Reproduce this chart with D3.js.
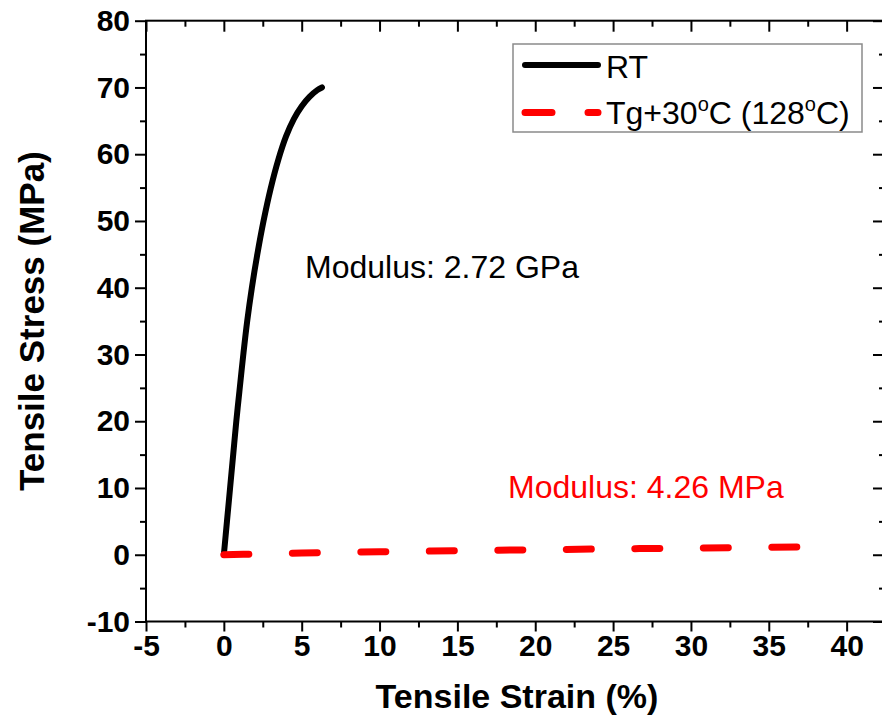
<!DOCTYPE html>
<html><head><meta charset="utf-8">
<script src="https://cdn.jsdelivr.net/npm/d3@7"></script>
<style>body{margin:0;background:#fff}svg{display:block}</style>
</head><body>
<svg id="c" width="882" height="719"></svg>
<script>
// Data
const rtStrain = [0, 0.2, 0.4, 0.6, 0.8, 1.0, 1.25, 1.5, 1.8, 2.15, 2.55, 3.0, 3.5, 4.0, 4.5, 5.0, 5.5, 6.0, 6.3];
const rtStress = [0, 5, 10, 15, 20, 24.5, 30, 35, 40, 45, 50, 54.8, 59.2, 62.7, 65.3, 67.2, 68.6, 69.6, 70];
const hotStrain = [0, 5, 10, 15, 20, 25, 30, 36.8];
const hotStress = [0, 0.25, 0.45, 0.6, 0.75, 0.88, 1.0, 1.15];
const xTicks = [-5, 0, 5, 10, 15, 20, 25, 30, 35, 40];
const yTicks = [-10, 0, 10, 20, 30, 40, 50, 60, 70, 80];
const seriesNames = ["RT", "Tg+30", "C (128", "C)"];
const annotations = ["Modulus: 2.72 GPa", "Modulus: 4.26 MPa"];

const svg = d3.select("#c");
const x = d3.scaleLinear().domain([-5, 42.4]).range([146, 884]);
const y = d3.scaleLinear().domain([-10, 80]).range([621.5, 20.7]);
const font = "'Liberation Sans', Arial, sans-serif";
const fmt = d => String(d);
const tickFont = 30;

const xMinor = d3.range(-5, 42.5, 2.5).filter(v => !xTicks.includes(v));
const yMinor = d3.range(-10, 80.1, 5).filter(v => !yTicks.includes(v));

function styleAxis(g){
  g.select(".domain").remove();
  g.selectAll("line").attr("stroke","#000").attr("stroke-width",2);
}
// bottom axis
const gb = svg.append("g").attr("transform",`translate(0,${y(-10)})`)
  .call(d3.axisBottom(x).tickValues(xTicks).tickSize(10).tickPadding(3).tickFormat(fmt));
styleAxis(gb);
gb.selectAll("text").attr("font-family",font).attr("font-weight","bold").attr("font-size",tickFont).attr("fill","#000");
svg.append("g").attr("transform",`translate(0,${y(-10)})`)
  .call(d3.axisBottom(x).tickValues(xMinor).tickSize(6).tickFormat("")).call(styleAxis);
// top axis (inward)
svg.append("g").attr("transform",`translate(0,${y(80)})`)
  .call(d3.axisBottom(x).tickValues(xTicks).tickSize(11).tickFormat("")).call(styleAxis);
svg.append("g").attr("transform",`translate(0,${y(80)})`)
  .call(d3.axisBottom(x).tickValues(xMinor).tickSize(6).tickFormat("")).call(styleAxis);
// left axis
const gl = svg.append("g").attr("transform",`translate(${x(-5)},0)`)
  .call(d3.axisLeft(y).tickValues(yTicks).tickSize(11).tickPadding(5).tickFormat(fmt));
styleAxis(gl);
gl.selectAll("text").attr("font-family",font).attr("font-weight","bold").attr("font-size",tickFont).attr("fill","#000");
svg.append("g").attr("transform",`translate(${x(-5)},0)`)
  .call(d3.axisLeft(y).tickValues(yMinor).tickSize(6).tickFormat("")).call(styleAxis);
// right axis (inward)
svg.append("g").attr("transform",`translate(${x(42.4)},0)`)
  .call(d3.axisLeft(y).tickValues(yTicks).tickSize(11).tickFormat("")).call(styleAxis);
svg.append("g").attr("transform",`translate(${x(42.4)},0)`)
  .call(d3.axisLeft(y).tickValues(yMinor).tickSize(5).tickFormat("")).call(styleAxis);

// frame
svg.append("rect").attr("x",x(-5)).attr("y",y(80)).attr("width",x(42.4)-x(-5)).attr("height",y(-10)-y(80))
  .attr("fill","none").attr("stroke","#000").attr("stroke-width",2);

// axis titles
svg.append("text").attr("x",(x(-5)+x(42.4))/2 + 2).attr("y",708).attr("text-anchor","middle")
  .attr("font-family",font).attr("font-weight","bold").attr("font-size",34).text("Tensile Strain (%)");
svg.append("text").attr("transform",`translate(44,${(y(-10)+y(80))/2}) rotate(-90)`).attr("text-anchor","middle")
  .attr("font-family",font).attr("font-weight","bold").attr("font-size",35).text("Tensile Stress (MPa)");

// lines
const rt = rtStrain.map((s,i)=>[s, rtStress[i]]);
const hot = hotStrain.map((s,i)=>[s, hotStress[i]]);
svg.append("path").attr("d", d3.line().x(d=>x(d[0])).y(d=>y(d[1])).curve(d3.curveCatmullRom.alpha(0.5))(rt)).attr("fill","none")
  .attr("stroke","#000").attr("stroke-width",6).attr("stroke-linecap","round").attr("stroke-linejoin","round");
const hp = svg.append("path").attr("d", d3.line().x(d=>x(d[0])).y(d=>y(d[1])).curve(d3.curveMonotoneX)(hot)).attr("fill","none")
  .attr("stroke","#ff0000").attr("stroke-width",7).attr("stroke-linecap","round");
// dash pattern: even dashes spread so the last dash ends at the line's end
const L = hp.node().getTotalLength();
const dash = 25, nDash = 9;
const gapLen = (L - nDash * dash) / (nDash - 1);
hp.attr("stroke-dasharray", `${dash},${gapLen}`);

// annotations
svg.append("text").attr("x",305).attr("y",278).attr("font-family",font).attr("font-size",32)
  .attr("fill","#000").text(annotations[0]);
svg.append("text").attr("x",508).attr("y",498).attr("font-family",font).attr("font-size",32)
  .attr("fill","#ff0000").text(annotations[1]);

// legend
const lg = svg.append("g");
lg.append("rect").attr("x",513).attr("y",44).attr("width",349).attr("height",88)
  .attr("fill","#fff").attr("stroke","#8a8a8a").attr("stroke-width",1.5);
lg.append("line").attr("x1",525).attr("x2",598).attr("y1",65).attr("y2",65)
  .attr("stroke","#000").attr("stroke-width",6).attr("stroke-linecap","round");
lg.append("line").attr("x1",525).attr("x2",598).attr("y1",112.5).attr("y2",112.5)
  .attr("stroke","#ff0000").attr("stroke-width",7).attr("stroke-linecap","round").attr("stroke-dasharray","27,36");
lg.append("text").attr("x",606).attr("y",78).attr("font-family",font).attr("font-size",32).text(seriesNames[0]);
const t2 = lg.append("text").attr("x",606).attr("y",124).attr("font-family",font).attr("font-size",32);
t2.append("tspan").text(seriesNames[1]);
t2.append("tspan").attr("font-size",20).attr("dy",-13).text("o");
t2.append("tspan").attr("dy",13).text(seriesNames[2]);
t2.append("tspan").attr("font-size",20).attr("dy",-13).text("o");
t2.append("tspan").attr("dy",13).text(seriesNames[3]);
</script>
</body></html>
